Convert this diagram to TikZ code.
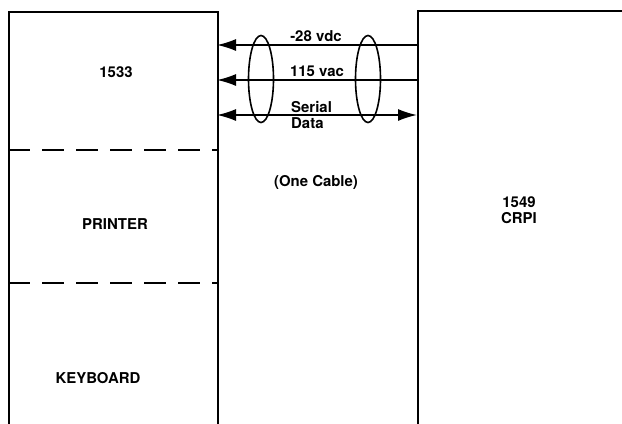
\documentclass[tikz,border=0pt]{standalone}
\usepackage{fontspec}
\setmainfont{TeX Gyre Heros}
\usetikzlibrary{arrows.meta, positioning, shapes.geometric}

\begin{document}
\begin{tikzpicture}[
    x=1bp, y=-1bp,
    % box styles
    unit/.style={
        rectangle, draw=black, line width=1.8bp,
        anchor=north west, inner sep=0pt
    },
    divider/.style={
        line width=2.6bp, dash pattern=on 22bp off 12bp
    },
    wire/.style={
        line width=1.6bp
    },
    tip/.style={
        {Latex[length=19bp,width=12bp]}-
    },
    twotip/.style={
        {Latex[length=19bp,width=12bp]}-{Latex[length=19bp,width=12bp]}
    },
    cable/.style={
        ellipse, draw=black, line width=1.6bp,
        minimum width=25bp, minimum height=87bp, inner sep=0pt
    },
    txt/.style={
        font=\fontsize{15}{15.5}\selectfont\bfseries, align=center, inner sep=0pt
    }
]
\useasboundingbox (0,0) rectangle (622,423);

% boxes (open at the bottom / right edge)
\node[unit, minimum width=209bp, minimum height=440bp] (term) at (8,11) {};
\node[unit, minimum width=240bp, minimum height=440bp] (crpi) at (417,10) {};

% sections in the terminal
\coordinate (d1a) at (8,150);   \coordinate (d1b) at (217,150);
\coordinate (d2a) at (8,283);   \coordinate (d2b) at (217,283);
\draw[divider] (d1a) -- (d1b);
\draw[divider] (d2a) -- (d2b);

\node[txt] (tn) at (116,72) {1533};
\node[txt] (pr) at (115,224) {PRINTER};
\node[txt] (kb) at (98,378) {KEYBOARD};
\node[txt] (cn) at (519,210) {1549\\CRPI};

% wires
\coordinate (w1l) at (217,45);  \coordinate (w1r) at (417,45);
\coordinate (w2l) at (217,80);  \coordinate (w2r) at (417,80);
\coordinate (w3l) at (217,115); \coordinate (w3r) at (417,115);
\draw[wire, tip] (w1l) -- (w1r);
\draw[wire, tip] (w2l) -- (w2r);
\draw[wire, twotip] (w3l) -- (w3r);

% cable bundles
\node[cable] (c1) at (261,79) {};
\node[cable] (c2) at (368,79) {};

% labels
\node[txt] (l1) at (316,36) {-28 vdc};
\node[txt] (l2) at (317,71) {115 vac};
\node[txt, align=left, anchor=west] (l3) at (291,115) {Serial\\Data};
\node[txt] (l4) at (316,182) {(One Cable)};

\end{tikzpicture}
\end{document}
